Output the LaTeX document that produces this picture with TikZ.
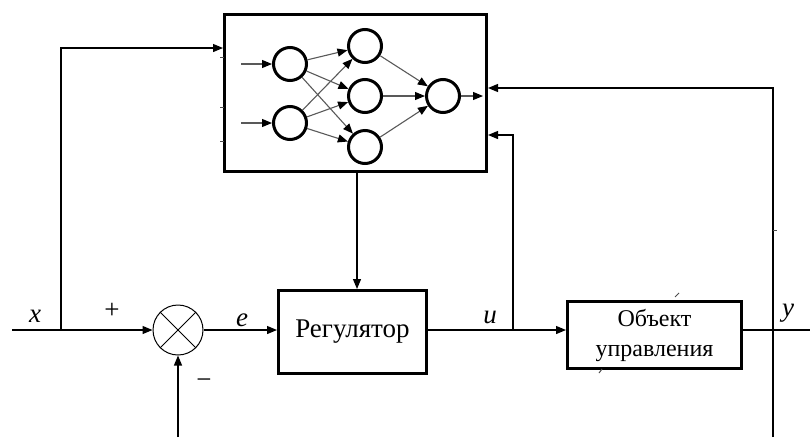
\documentclass[tikz,border=0pt]{standalone}
\usepackage{fontspec}
\setmainfont{Liberation Serif}
\usetikzlibrary{arrows.meta}

\begin{document}
\begin{tikzpicture}[x=1pt,y=-1pt,
  wire/.style={line width=1.2pt,-{Triangle[length=10pt,width=8pt]}},
  plain/.style={line width=1.2pt},
  blockbox/.style={draw,line width=3pt,inner sep=0pt,font=\fontsize{27}{30}\selectfont},
  neuron/.style={draw,circle,line width=3pt,minimum size=33pt,inner sep=0pt},
  syn/.style={draw=black!65,line width=1.1pt,-{Triangle[length=10pt,width=8pt,color=black]}},
  tick/.style={line width=1pt,black!70},
  lbl/.style={font=\fontsize{27}{28}\selectfont\itshape,inner sep=0pt},
  sgn/.style={font=\fontsize{27}{28}\selectfont,inner sep=0pt}]
\useasboundingbox (0,0) rectangle (810,437);

% neural network block
\node[blockbox,minimum width=262pt,minimum height=157pt] (nn) at (355.5,93) {};
\node[neuron] (i1) at (290,64) {};
\node[neuron] (i2) at (290,123) {};
\node[neuron] (h1) at (365,46) {};
\node[neuron] (h2) at (365,96) {};
\node[neuron] (h3) at (365,147) {};
\node[neuron] (o) at (443,96) {};
\coordinate (in1) at (241,64);
\coordinate (in2) at (241,123);
\coordinate (out) at (483,96);
\draw[syn] (in1) -- (i1);
\draw[syn] (in2) -- (i2);
\foreach \a in {i1,i2}
  \foreach \b in {h1,h2,h3}
    \draw[syn] (\a) -- (\b);
\foreach \b in {h1,h2,h3}
  \draw[syn] (\b) -- (o);
\draw[syn] (o) -- (out);
% small input stubs on the left edge of the block
\foreach \yy in {57,107,141}
  \draw[tick] (220,\yy) -- (224,\yy);

% main loop blocks
\node[draw,circle,line width=1pt,minimum size=50pt,inner sep=0pt] (sum) at (178,330) {};
\draw[line width=1pt] (sum.45) -- (sum.225) (sum.135) -- (sum.315);
\node[blockbox,minimum width=148pt,minimum height=83pt] (reg) at (352.5,332) {Регулятор};
\node[blockbox,minimum width=174pt,minimum height=67pt,align=center,
      font=\fontsize{24}{30}\selectfont] (obj) at (654.5,335) {Объект\\управления};

% connection points
\coordinate (xin) at (12,330);
\coordinate (xb) at (61,330);
\coordinate (xt) at (61,48);
\coordinate (ub) at (513,330);
\coordinate (ut) at (513,135);
\coordinate (yb) at (773,330);
\coordinate (yt) at (773,88);
\coordinate (ybot) at (773,437);
\coordinate (yout) at (810,330);
\coordinate (fb) at (178,437);

% signal lines
\draw[wire] (xin) -- (sum.west);
\draw[wire] (xb) -- (xt) -- (nn.west |- xt);
\draw[wire] (sum.east) -- (reg.west |- sum.east);
\draw[wire] (reg.east |- ub) -- (obj.west |- ub);
\draw[wire] (ub) -- (ut) -- (nn.east |- ut);
\draw[plain] (obj.east |- yb) -- (yout);
\draw[wire] (ybot) -- (yt) -- (nn.east |- yt);
\draw[wire] (fb) -- (sum.south);
\draw[wire] (nn.south -| 357,0) -- (reg.north -| 357,0);
\draw[tick] (773,230) -- (777,230);
\draw[tick] (675,297) -- (679,293);
\draw[tick] (599,373) -- (602,369);

% labels
\node[lbl] (lx) at (35,316) {x};
\node[sgn] (lp) at (112,311) {+};
\node[sgn] (lm) at (204,384) {−};
\node[lbl] (le) at (242,320) {e};
\node[lbl] (lu) at (490,317) {u};
\node[lbl] (ly) at (788,313) {y};
\end{tikzpicture}
\end{document}
